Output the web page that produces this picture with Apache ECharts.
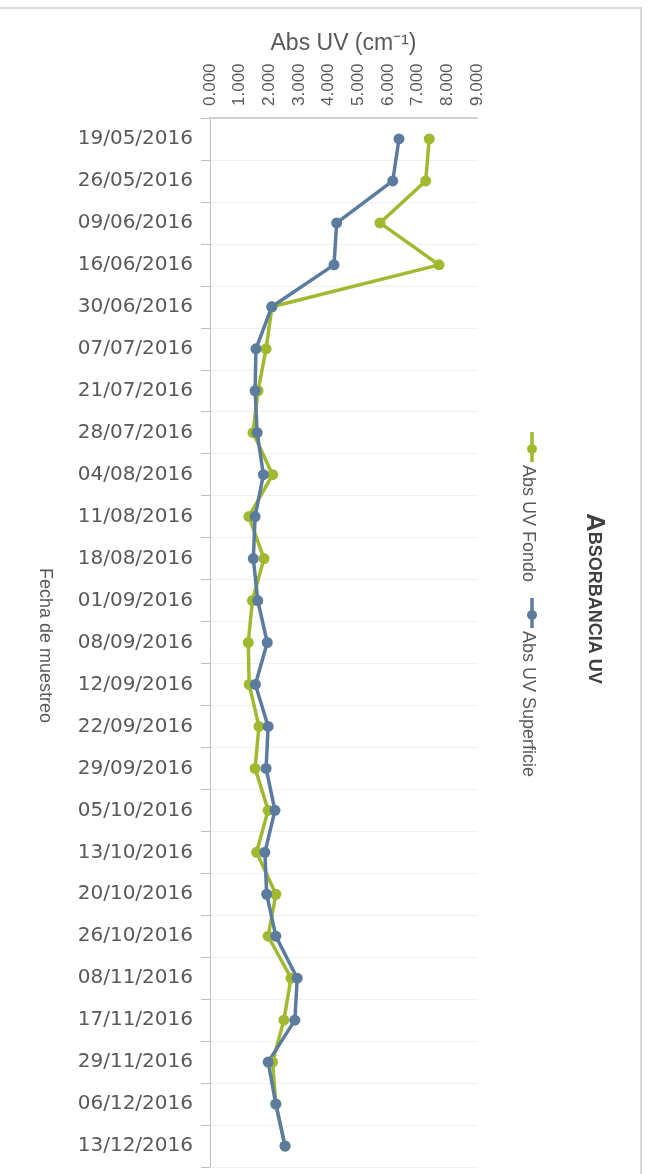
<!DOCTYPE html>
<html>
<head>
<meta charset="utf-8">
<script src="https://cdn.jsdelivr.net/npm/echarts@6/dist/echarts.min.js"></script>
<style>
html,body{margin:0;padding:0;background:#fff;}
#chart{width:652px;height:1174px;}
</style>
</head>
<body>
<div id="chart"></div>
<script>
const categories = ['19/05/2016','26/05/2016','09/06/2016','16/06/2016','30/06/2016','07/07/2016','21/07/2016','28/07/2016','04/08/2016','11/08/2016','18/08/2016','01/09/2016','08/09/2016','12/09/2016','22/09/2016','29/09/2016','05/10/2016','13/10/2016','20/10/2016','26/10/2016','08/11/2016','17/11/2016','29/11/2016','06/12/2016','13/12/2016'];
const absFondo = [7.39,7.27,5.73,7.72,2.09,1.89,1.62,1.45,2.11,1.31,1.82,1.43,1.29,1.32,1.65,1.52,1.96,1.57,2.22,1.96,2.73,2.49,2.11,2.22,2.53];
const absSuperficie = [6.37,6.16,4.27,4.18,2.08,1.55,1.52,1.59,1.80,1.52,1.46,1.61,1.93,1.53,1.96,1.89,2.19,1.85,1.91,2.22,2.94,2.86,1.96,2.22,2.53];
const valueTicks = [0,1,2,3,4,5,6,7,8,9];
const seriesNames = ['Abs UV Fondo','Abs UV Superficie'];

const GREEN = '#9fba2f';
const BLUE = '#5b7b9f';
const GREY = '#595959';

const chart = echarts.init(document.getElementById('chart'), null, {renderer:'canvas'});

function legendItem(color, label, x, y) {
  return {
    type:'group', x:x, y:y, rotation:-Math.PI/2,
    children:[
      {type:'line', shape:{x1:0,y1:0,x2:30,y2:0}, style:{stroke:color,lineWidth:3.5}},
      {type:'circle', shape:{cx:17,cy:0,r:5}, style:{fill:color}},
      {type:'text', x:33, y:4, style:{text:label, fill:GREY, font:'18px "Liberation Sans"', textVerticalAlign:'middle', textAlign:'left'}}
    ]
  };
}

chart.setOption({
  backgroundColor:'#fff',
  animation:false,
  grid:{left:210, top:118, width:267, height:1049, containLabel:false},
  xAxis:{
    type:'value', position:'top', min:valueTicks[0], max:valueTicks[valueTicks.length-1], interval:1,
    name:'Abs UV (cm⁻¹)', nameLocation:'middle', nameGap:60,
    nameTextStyle:{color:GREY, fontSize:23, fontFamily:'Liberation Sans'},
    axisLine:{show:true, lineStyle:{color:'#d0d0d0', width:2}},
    axisTick:{show:false},
    splitLine:{show:false},
    axisLabel:{rotate:-90, margin:12, color:GREY, fontSize:17, fontFamily:'Liberation Sans',
      formatter:v=>v.toFixed(3)}
  },
  yAxis:{
    type:'category', inverse:true, data:categories, boundaryGap:true,
    axisLine:{show:true, lineStyle:{color:'#bfbfbf', width:1}},
    axisTick:{show:true, inside:false, length:9, lineStyle:{color:'#bfbfbf'}},
    splitLine:{show:true, lineStyle:{color:'#f0f0f0', width:1}},
    axisLabel:{margin:17, color:GREY, fontSize:20, fontFamily:'DejaVu Sans'}
  },
  series:[
    {name:seriesNames[0], type:'line', data:absFondo, symbol:'circle', symbolSize:11,
      lineStyle:{color:GREEN, width:3.5}, itemStyle:{color:GREEN}},
    {name:seriesNames[1], type:'line', data:absSuperficie, symbol:'circle', symbolSize:11,
      lineStyle:{color:BLUE, width:3.5}, itemStyle:{color:BLUE}}
  ],
  graphic:[
    {type:'rect', shape:{x:-2,y:8,width:643,height:1180}, style:{fill:'none', stroke:'#d9d9d9', lineWidth:2}, silent:true},
    {type:'text', x:45, y:568, rotation:-Math.PI/2,
      style:{text:'Fecha de muestreo', fill:GREY, font:'18px "Liberation Sans"', textAlign:'left', textVerticalAlign:'middle'}},
    {type:'text', x:594, y:513, rotation:-Math.PI/2,
      style:{text:'{a|A}{b|BSORBANCIA UV}', textAlign:'left', textVerticalAlign:'middle',
        rich:{a:{fontSize:26, fontWeight:'bold', fill:'#404040', fontFamily:'Liberation Sans'},
              b:{fontSize:18, fontWeight:'bold', fill:'#404040', fontFamily:'Liberation Sans'}}}},
    legendItem(GREEN, seriesNames[0], 532, 432),
    legendItem(BLUE, seriesNames[1], 532, 598)
  ]
});
</script>
</body>
</html>
